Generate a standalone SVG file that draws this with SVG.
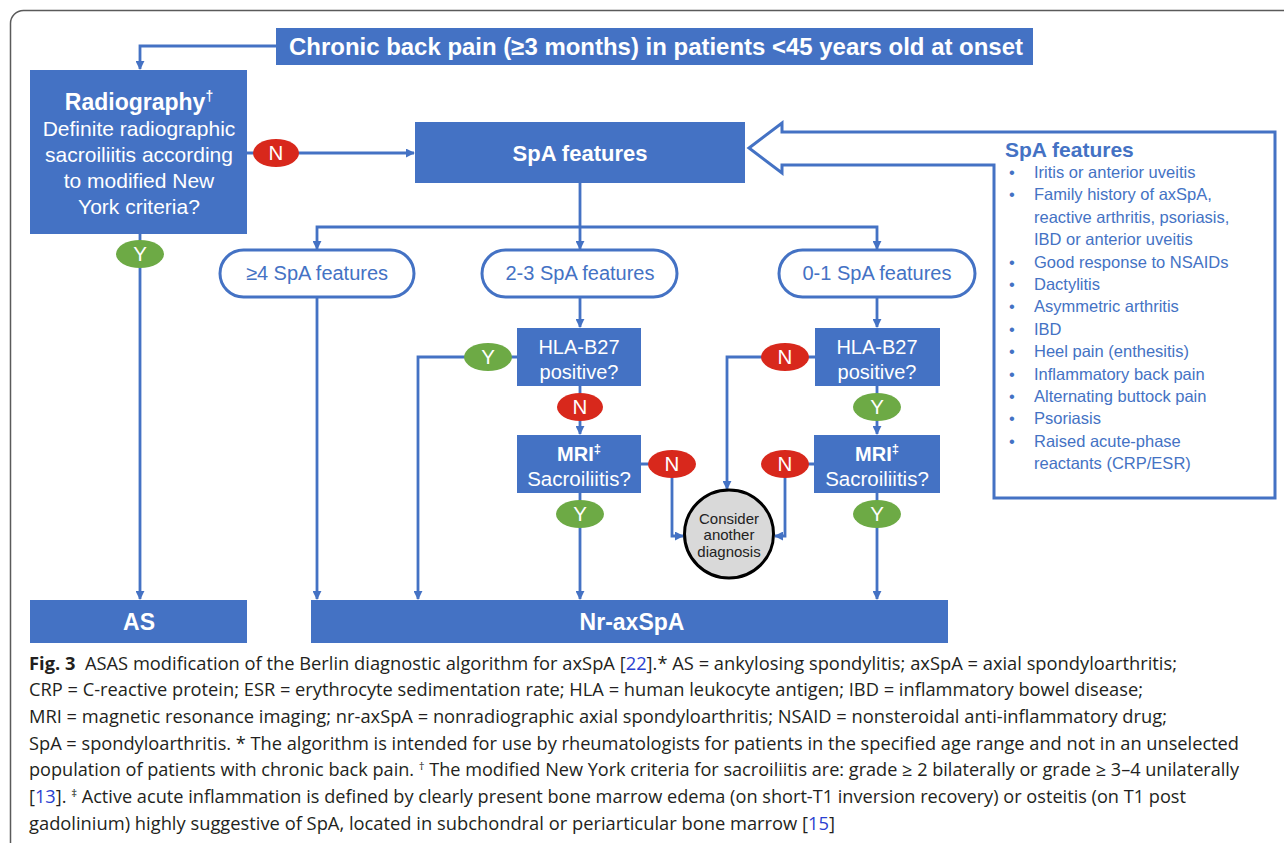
<svg xmlns="http://www.w3.org/2000/svg" width="1284" height="843" viewBox="0 0 1284 843">
<style>
.box{fill:#4472C4;}
.wt{fill:#fff;font-family:"Liberation Sans",Arial,sans-serif;text-anchor:middle;}
.b{font-weight:bold;}
.pill{fill:#fff;stroke:#4472C4;stroke-width:3;}
.pt{fill:#4472C4;font-family:"Liberation Sans",Arial,sans-serif;font-size:20px;text-anchor:middle;}
.con{fill:none;stroke:#4472C4;stroke-width:2.8;}
.y{fill:#6DAA45;}
.n{fill:#D8281C;}
.yn{fill:#fff;font-family:"Liberation Sans",Arial,sans-serif;font-size:20.5px;text-anchor:middle;}
.lt{fill:#4472C4;font-family:"Liberation Sans",Arial,sans-serif;font-size:16.5px;}
.lh{fill:#4472C4;font-family:"Liberation Sans",Arial,sans-serif;font-size:21px;font-weight:bold;}
.cap{fill:#231F20;font-family:"Open Sans","Noto Sans",sans-serif;font-size:17.5px;}
.ref{fill:#2B3FD0;}
</style>
<defs>
<marker id="ah" viewBox="0 0 10 10" refX="9" refY="5" markerWidth="9" markerHeight="9" markerUnits="userSpaceOnUse" orient="auto">
<path d="M0,0 L10,5 L0,10 Z" fill="#4472C4"/>
</marker>
</defs>
<rect x="10.5" y="10.5" width="1310" height="860" rx="13" fill="none" stroke="#5a5a5a" stroke-width="1.5"/>

<g id="connectors">
<path class="con" d="M276,46 H140 V69" marker-end="url(#ah)"/>
<path class="con" d="M247,153 H414" marker-end="url(#ah)"/>
<path class="con" d="M140,234 V599" marker-end="url(#ah)"/>
<path class="con" d="M580,183 V249" marker-end="url(#ah)"/>
<path class="con" d="M580,227 H317 V249" marker-end="url(#ah)"/>
<path class="con" d="M580,227 H877 V249" marker-end="url(#ah)"/>
<path class="con" d="M317,297 V599" marker-end="url(#ah)"/>
<path class="con" d="M580,297 V327" marker-end="url(#ah)"/>
<path class="con" d="M517,357 H418 V599" marker-end="url(#ah)"/>
<path class="con" d="M580,386 V434" marker-end="url(#ah)"/>
<path class="con" d="M580,493 V599" marker-end="url(#ah)"/>
<path class="con" d="M641,464 H672 V536 H683" marker-end="url(#ah)"/>
<path class="con" d="M877,297 V327" marker-end="url(#ah)"/>
<path class="con" d="M815,357 H727 V489" marker-end="url(#ah)"/>
<path class="con" d="M877,386 V434" marker-end="url(#ah)"/>
<path class="con" d="M814,464 H785 V536 H775" marker-end="url(#ah)"/>
<path class="con" d="M877,493 V599" marker-end="url(#ah)"/>
</g>

<g id="title">
<rect class="box" x="276" y="28" width="757" height="37"/>
<text class="wt b" x="656" y="55" font-size="23.5" textLength="734" lengthAdjust="spacingAndGlyphs">Chronic back pain (≥3 months) in patients &lt;45 years old at onset</text>
</g>

<g id="radiography">
<rect class="box" x="30" y="70" width="217" height="164"/>
<text class="wt b" x="139" y="110" font-size="23">Radiography<tspan font-size="14" dy="-9">†</tspan></text>
<text class="wt" x="139" y="136" font-size="21">Definite radiographic</text>
<text class="wt" x="139" y="162" font-size="21">sacroiliitis according</text>
<text class="wt" x="139" y="188" font-size="21">to modified New</text>
<text class="wt" x="139" y="214" font-size="21">York criteria?</text>
</g>

<g id="n-radio">
<ellipse class="n" cx="276" cy="153" rx="23" ry="14"/>
<text class="yn" x="276" y="160">N</text>
</g>
<g id="y-radio">
<ellipse class="y" cx="140" cy="254" rx="24" ry="14"/>
<text class="yn" x="140" y="261">Y</text>
</g>

<g id="spa-features">
<rect class="box" x="415" y="122" width="330" height="61"/>
<text class="wt b" x="580" y="161" font-size="22">SpA features</text>
</g>

<g id="spa-list">
<path d="M749,148 L782,123 L782,132 L1275,132 L1275,498 L994,498 L994,165 L782,165 L782,173 Z" fill="#fff" stroke="#4472C4" stroke-width="3" stroke-linejoin="miter"/>
<text class="lh" x="1005" y="157">SpA features</text>
<g class="lt">
<text x="1009" y="178">•</text><text x="1034" y="178">Iritis or anterior uveitis</text>
<text x="1009" y="200.4">•</text><text x="1034" y="200.4">Family history of axSpA,</text>
<text x="1034" y="222.8">reactive arthritis, psoriasis,</text>
<text x="1034" y="245.2">IBD or anterior uveitis</text>
<text x="1009" y="267.6">•</text><text x="1034" y="267.6">Good response to NSAIDs</text>
<text x="1009" y="290">•</text><text x="1034" y="290">Dactylitis</text>
<text x="1009" y="312.4">•</text><text x="1034" y="312.4">Asymmetric arthritis</text>
<text x="1009" y="334.8">•</text><text x="1034" y="334.8">IBD</text>
<text x="1009" y="357.2">•</text><text x="1034" y="357.2">Heel pain (enthesitis)</text>
<text x="1009" y="379.6">•</text><text x="1034" y="379.6">Inflammatory back pain</text>
<text x="1009" y="402">•</text><text x="1034" y="402">Alternating buttock pain</text>
<text x="1009" y="424.4">•</text><text x="1034" y="424.4">Psoriasis</text>
<text x="1009" y="446.8">•</text><text x="1034" y="446.8">Raised acute-phase</text>
<text x="1034" y="469.2">reactants (CRP/ESR)</text>
</g>
</g>

<g id="pill-4">
<rect class="pill" x="220" y="250" width="194" height="47" rx="23.5"/>
<text class="pt" x="317" y="280">≥4 SpA features</text>
</g>
<g id="pill-23">
<rect class="pill" x="482" y="250" width="195" height="47" rx="23.5"/>
<text class="pt" x="580" y="280">2-3 SpA features</text>
</g>
<g id="pill-01">
<rect class="pill" x="779" y="250" width="196" height="47" rx="23.5"/>
<text class="pt" x="877" y="280">0-1 SpA features</text>
</g>

<g id="hla-left">
<rect class="box" x="517" y="328" width="124" height="58"/>
<text class="wt" x="579" y="354" font-size="20">HLA-B27</text>
<text class="wt" x="579" y="379" font-size="20">positive?</text>
</g>
<g id="y-hla-left">
<ellipse class="y" cx="488" cy="357" rx="24" ry="14"/>
<text class="yn" x="488" y="364">Y</text>
</g>
<g id="n-hla-left">
<ellipse class="n" cx="580" cy="407" rx="23" ry="14"/>
<text class="yn" x="580" y="414">N</text>
</g>
<g id="mri-left">
<rect class="box" x="517" y="435" width="124" height="58"/>
<text class="wt b" x="579" y="461" font-size="20">MRI<tspan font-size="13" dy="-8">‡</tspan></text>
<text class="wt" x="579" y="486" font-size="20.5">Sacroiliitis?</text>
</g>
<g id="n-mri-left">
<ellipse class="n" cx="672" cy="464" rx="24" ry="14"/>
<text class="yn" x="672" y="471">N</text>
</g>
<g id="y-mri-left">
<ellipse class="y" cx="580" cy="514" rx="24" ry="14"/>
<text class="yn" x="580" y="521">Y</text>
</g>

<g id="hla-right">
<rect class="box" x="815" y="328" width="125" height="58"/>
<text class="wt" x="877" y="354" font-size="20">HLA-B27</text>
<text class="wt" x="877" y="379" font-size="20">positive?</text>
</g>
<g id="n-hla-right">
<ellipse class="n" cx="785" cy="357" rx="24" ry="14"/>
<text class="yn" x="785" y="364">N</text>
</g>
<g id="y-hla-right">
<ellipse class="y" cx="877" cy="407" rx="24" ry="14"/>
<text class="yn" x="877" y="414">Y</text>
</g>
<g id="mri-right">
<rect class="box" x="814" y="435" width="126" height="58"/>
<text class="wt b" x="877" y="461" font-size="20">MRI<tspan font-size="13" dy="-8">‡</tspan></text>
<text class="wt" x="877" y="486" font-size="20.5">Sacroiliitis?</text>
</g>
<g id="n-mri-right">
<ellipse class="n" cx="785" cy="464" rx="24" ry="14"/>
<text class="yn" x="785" y="471">N</text>
</g>
<g id="y-mri-right">
<ellipse class="y" cx="877" cy="514" rx="24" ry="14"/>
<text class="yn" x="877" y="521">Y</text>
</g>

<g id="consider">
<ellipse cx="729" cy="534" rx="44.5" ry="44" fill="#D9D9D9" stroke="#000" stroke-width="3"/>
<g font-family="'Liberation Sans',Arial,sans-serif" font-size="15" fill="#222" text-anchor="middle">
<text x="729" y="524">Consider</text>
<text x="729" y="540">another</text>
<text x="729" y="557">diagnosis</text>
</g>
</g>

<g id="as">
<rect class="box" x="30" y="600" width="217" height="43"/>
<text class="wt b" x="139" y="630" font-size="23">AS</text>
</g>
<g id="nr-axspa">
<rect class="box" x="311" y="600" width="637" height="43"/>
<text class="wt b" x="632" y="630" font-size="23">Nr-axSpA</text>
</g>

<g id="caption" class="cap">
<text x="29" y="669.5" textLength="1148" lengthAdjust="spacingAndGlyphs"><tspan font-weight="bold">Fig. 3</tspan>&#160;&#160;ASAS modification of the Berlin diagnostic algorithm for axSpA [<tspan class="ref">22</tspan>].* AS = ankylosing spondylitis; axSpA = axial spondyloarthritis;</text>
<text x="29" y="696.2" textLength="1114" lengthAdjust="spacingAndGlyphs">CRP = C-reactive protein; ESR = erythrocyte sedimentation rate; HLA = human leukocyte antigen; IBD = inflammatory bowel disease;</text>
<text x="29" y="722.8" textLength="1138" lengthAdjust="spacingAndGlyphs">MRI = magnetic resonance imaging; nr-axSpA = nonradiographic axial spondyloarthritis; NSAID = nonsteroidal anti-inflammatory drug;</text>
<text x="29" y="749.5" textLength="1210" lengthAdjust="spacingAndGlyphs">SpA = spondyloarthritis. * The algorithm is intended for use by rheumatologists for patients in the specified age range and not in an unselected</text>
<text x="29" y="776.2" textLength="1210" lengthAdjust="spacingAndGlyphs">population of patients with chronic back pain. <tspan font-size="11" dy="-6">†</tspan><tspan dy="6"> The modified New York criteria for sacroiliitis are: grade ≥ 2 bilaterally or grade ≥ 3–4 unilaterally</tspan></text>
<text x="29" y="802.8" textLength="1157" lengthAdjust="spacingAndGlyphs">[<tspan class="ref">13</tspan>]. <tspan font-size="11" dy="-6">‡</tspan><tspan dy="6"> Active acute inflammation is defined by clearly present bone marrow edema (on short-T1 inversion recovery) or osteitis (on T1 post</tspan></text>
<text x="29" y="829.5" textLength="806" lengthAdjust="spacingAndGlyphs">gadolinium) highly suggestive of SpA, located in subchondral or periarticular bone marrow [<tspan class="ref">15</tspan>]</text>
</g>
</svg>
